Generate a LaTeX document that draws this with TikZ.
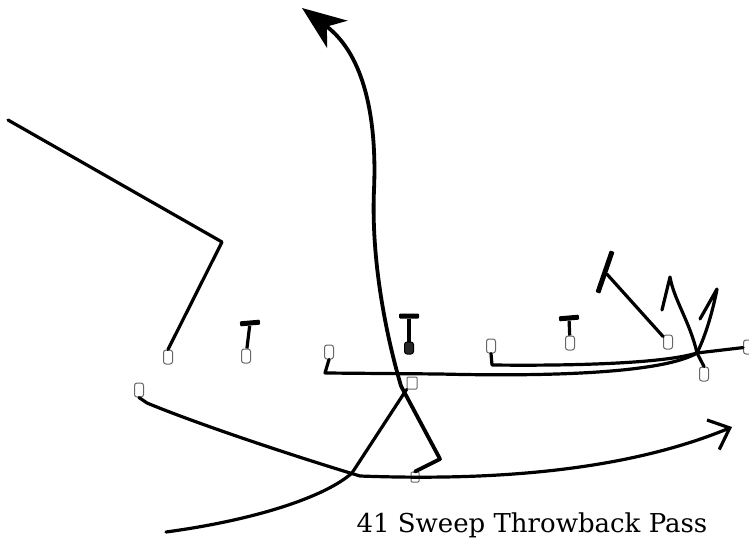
\documentclass[tikz,border=0pt]{standalone}
\usepackage{fontspec}
\setmainfont{DejaVu Serif}
\usetikzlibrary{arrows.meta}

\begin{document}
\begin{tikzpicture}[
x=1pt, y=-1pt,
player/.style={draw=black!60, line width=1pt, rounded corners=2.5pt, minimum width=9pt, minimum height=14pt, inner sep=0pt},
tbar/.style={fill=black, minimum width=20pt, minimum height=5pt, inner sep=0pt, rounded corners=1pt},
stem/.style={line width=3.2pt},
route/.style={line width=3.2pt, line cap=round, line join=round},
arrow/.style={route, line width=3.8pt, -{Stealth[length=44pt, width=34pt, inset=13pt]}},
openarrow/.style={route, -{Straight Barb[length=18pt, width=32pt]}}
]
\useasboundingbox (0,0) rectangle (749,540);

\node[player] (splitend) at (168,357) {};
\node[player] (ltackle) at (246,356) {};
\node[player] (lguard) at (329,352) {};
\node[player, fill=black!85, draw=black, minimum height=12pt] (center) at (409,348) {};
\node[player, minimum width=10pt, minimum height=12pt, rounded corners=1pt] (qback) at (412,383) {};
\node[player] (rguard) at (491,346) {};
\node[player] (rtackle) at (570,343) {};
\node[player] (tightend) at (668,342) {};
\node[player] (wingback) at (704,374) {};
\node[player] (flanker) at (748,347) {};
\node[player] (halfback) at (139,390) {};
\node[player, minimum width=8pt, minimum height=10pt, rounded corners=1pt] (fullback) at (415,477) {};

\node[tbar, rotate=5] (blockA) at (250,323) {};
\node[tbar] (blockB) at (409,316) {};
\node[tbar, rotate=5] (blockC) at (569,318) {};
\node[tbar, minimum width=44pt, rotate=71] (blockD) at (605,272) {};

\coordinate (cross) at (697,353);
\coordinate (postEnd) at (8,120);
\coordinate (deepEnd) at (302,8);
\coordinate (sweepEnd) at (166,532);
\coordinate (flatEnd) at (732,427);
\coordinate (curlEnd) at (670,277);
\coordinate (curlHook) at (662,310);
\coordinate (seamEnd) at (717,289);
\coordinate (seamHook) at (700,319);

\draw[stem] (blockA) -- (ltackle);
\draw[stem] (blockB) -- (center);
\draw[stem] (blockC) -- (rtackle);

\draw[route] (splitend.north) -- (222,242) -- (postEnd);

\draw[arrow] (fullback.north) -- (440,459) -- (401,386)
  .. controls (386,335) and (371,260) .. (374,190)
  .. controls (377,120) and (365,55) .. (deepEnd);

\draw[route] (qback.south west) -- (352,473)
  .. controls (325,497) and (255,520) .. (sweepEnd);

\draw[route] (lguard.south) -- (325,373) -- (440,374)
  .. controls (560,377) and (665,372) .. (cross) -- (flanker);

\draw[route] (rguard.south) -- (492,365)
  .. controls (580,366) and (665,363) .. (cross);

\draw[route] (tightend) -- (blockD);

\draw[route] (wingback.north) -- (cross)
  .. controls (690,322) and (674,300) .. (curlEnd) -- (curlHook);

\draw[route] (cross)
  .. controls (707,333) and (714,305) .. (seamEnd) -- (seamHook);

\draw[openarrow] (halfback.south) -- (147,403)
  .. controls (200,425) and (300,458) .. (360,476)
  .. controls (520,482) and (640,465) .. (flatEnd);

\node[anchor=base west, font=\fontsize{26}{28}\selectfont] (title) at (353,532) {41 Sweep Throwback Pass};

\end{tikzpicture}
\end{document}
